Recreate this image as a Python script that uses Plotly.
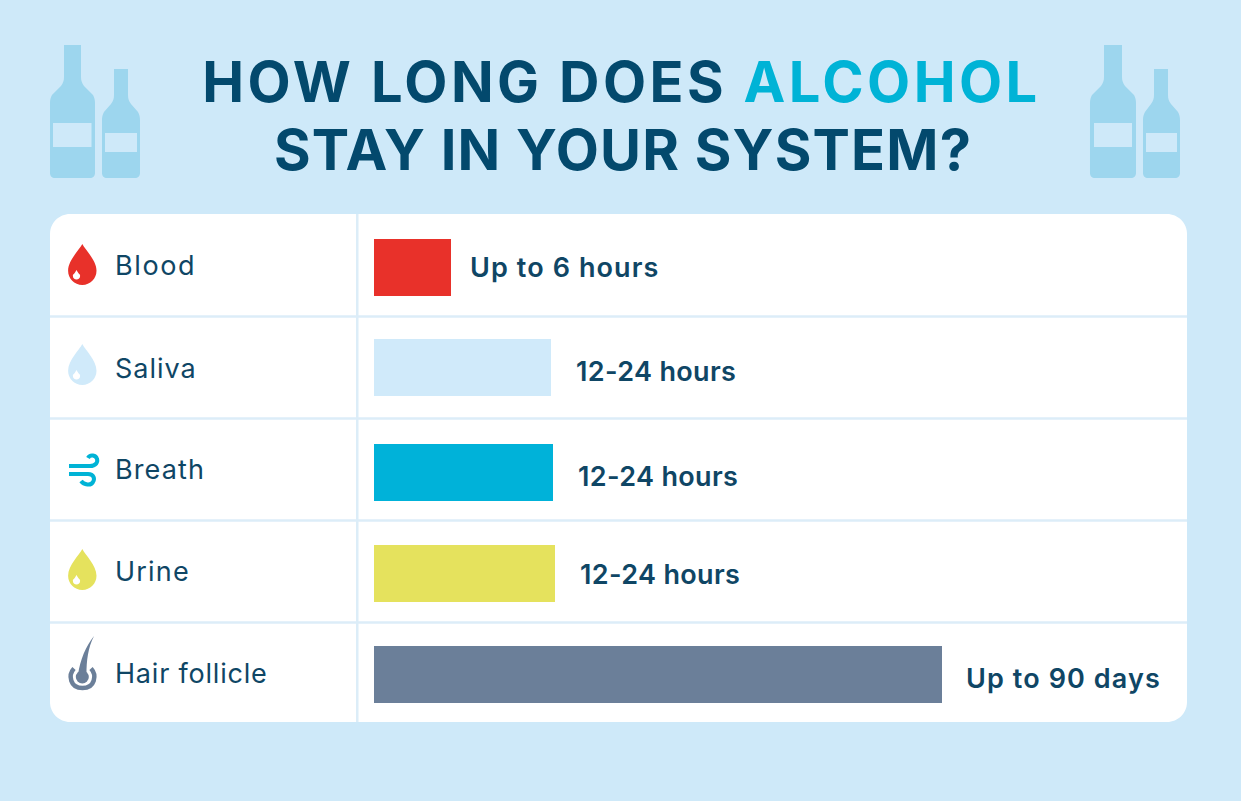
import json
import plotly.graph_objects as go

W, H = 1241, 801
categories = ["Blood", "Saliva", "Breath", "Urine", "Hair follicle"]
bar_lengths = [77, 177, 179, 181, 568]
value_labels = ["Up to 6 hours", "12-24 hours", "12-24 hours", "12-24 hours", "Up to 90 days"]
bar_colors = ["#E8312A", "#D0EAFA", "#00B2D9", "#E5E25D", "#6B7F99"]

BG = "#CEE9F9"
GRID = "#DCEDF8"
BOTTLE = "#9DD6EE"
NAVY = "#03496D"
TEXT = "#0F4665"
CYAN = "#00B3D6"

CARD_L, CARD_R, CARD_T, CARD_B = 50, 1187, 214, 722
BAR_X0 = 374
ROW = (CARD_B - CARD_T) / 5
BAR_H = 57


def px(x):
    return x / W


def py(y):
    return 1 - y / H


def path(*items):
    """Build an SVG path in paper coordinates from pixel tuples."""
    out = []
    for it in items:
        cmd, nums = it[0], it[1:]
        pts = []
        for i in range(0, len(nums), 2):
            pts.append(f"{px(nums[i]):.5f},{py(nums[i + 1]):.5f}")
        out.append(cmd + " ".join(pts))
    return " ".join(out)


def fill_shape(d, color, layer="below"):
    return dict(type="path", xref="paper", yref="paper", path=d,
                fillcolor=color, line=dict(width=0), layer=layer)


def stroke_shape(d, color, width):
    return dict(type="path", xref="paper", yref="paper", path=d,
                line=dict(color=color, width=width), layer="below")


def rect(x0, y0, x1, y1, color):
    return dict(type="rect", xref="paper", yref="paper", x0=px(x0), x1=px(x1),
                y0=py(y1), y1=py(y0), fillcolor=color, line=dict(width=0), layer="below")


def rounded(x0, y0, x1, y1, r):
    k = r * 0.45
    return path(("M", x0 + r, y0), ("L", x1 - r, y0),
                ("C", x1 - k, y0, x1, y0 + k, x1, y0 + r),
                ("L", x1, y1 - r),
                ("C", x1, y1 - k, x1 - k, y1, x1 - r, y1),
                ("L", x0 + r, y1),
                ("C", x0 + k, y1, x0, y1 - k, x0, y1 - r),
                ("L", x0, y0 + r),
                ("C", x0, y0 + k, x0 + k, y0, x0 + r, y0)) + " Z"


def bottle(x0, x1, n0, n1, top, neck, sh, bottom, color):
    r = 5
    return fill_shape(path(("M", n0, top), ("L", n1, top), ("L", n1, neck),
                           ("C", n1, neck + 4, n1 + 1, neck + 6, n1 + 3, neck + 9),
                           ("L", x1 - 2, sh - 8),
                           ("C", x1 - 0.5, sh - 5, x1, sh - 3, x1, sh),
                           ("L", x1, bottom - r),
                           ("C", x1, bottom - 2, x1 - 2, bottom, x1 - r, bottom),
                           ("L", x0 + r, bottom),
                           ("C", x0 + 2, bottom, x0, bottom - 2, x0, bottom - r),
                           ("L", x0, sh),
                           ("C", x0, sh - 3, x0 + 0.5, sh - 5, x0 + 2, sh - 8),
                           ("L", n0 - 3, neck + 9),
                           ("C", n0 - 1, neck + 6, n0, neck + 4, n0, neck)) + " Z", color)


def drop(cx, top, bottom, hw, color):
    cy = bottom - hw
    k = hw * 0.56
    d = path(("M", cx, top),
             ("C", cx + 3, top + 6, cx + hw, cy - hw * 0.75, cx + hw, cy),
             ("C", cx + hw, cy + k, cx + k, bottom, cx, bottom),
             ("C", cx - k, bottom, cx - hw, cy + k, cx - hw, cy),
             ("C", cx - hw, cy - hw * 0.75, cx - 3, top + 6, cx, top)) + " Z"
    return fill_shape(d, color)


def circle(cx, cy, r, color):
    return dict(type="circle", xref="paper", yref="paper", x0=px(cx - r), x1=px(cx + r),
                y0=py(cy + r), y1=py(cy - r), fillcolor=color, line=dict(width=0), layer="below")


shapes = [
    fill_shape(rounded(CARD_L, CARD_T, CARD_R, CARD_B, 20), "#FFFFFF"),
    rect(356, CARD_T, 358.5, CARD_B, GRID),
]
for y in [316.5, 418.5, 520.5, 622.5]:
    shapes.append(rect(CARD_L, y - 1.2, CARD_R, y + 1.2, GRID))

# bottles
shapes += [
    bottle(50, 95, 64, 81, 45, 77, 103, 178, BOTTLE),
    rect(53, 123, 91.5, 147, BG),
    bottle(102, 140, 114, 128, 69, 95, 120, 178, BOTTLE),
    rect(105, 133, 137, 152, BG),
    bottle(1090, 1136, 1104, 1122, 45, 77, 103, 178, BOTTLE),
    rect(1094, 123, 1132, 147, BG),
    bottle(1143, 1180, 1154, 1168, 69, 95, 120, 178, BOTTLE),
    rect(1146, 133, 1177, 152, BG),
]

# drops
for top, col in [(244, bar_colors[0]), (344, bar_colors[1]), (549, bar_colors[3])]:
    shapes.append(drop(82.3, top, top + 41, 14.2, col))
    shapes.append(drop(76.5, top + 26, top + 35.5, 3.6, "#FFFFFF"))

# breath icon
shapes += [
    stroke_shape(path(("M", 69, 466), ("L", 90, 466),
                      ("C", 96, 466, 98, 462, 97, 459),
                      ("C", 96, 455, 90, 454, 88, 458)), CYAN, 4),
    stroke_shape(path(("M", 69, 474), ("L", 88, 474),
                      ("C", 94, 474, 95, 479, 93, 482),
                      ("C", 91, 486, 84, 485, 81, 481)), CYAN, 4),
]

# hair icon
shapes += [
    stroke_shape(path(("M", 74, 668.5),
                      ("C", 68, 675, 70, 688, 82.5, 688),
                      ("C", 95, 688, 97, 675, 91, 668.5)), bar_colors[4], 4.5),
    circle(82.3, 677, 6.5, bar_colors[4]),
    fill_shape(path(("M", 94, 636), ("C", 88, 648, 86.5, 660, 86.5, 675),
                    ("L", 78, 675), ("C", 80, 660, 86, 646, 94, 636)) + " Z", bar_colors[4]),
]


def note(text, x, y, size, color=TEXT, weight=400, anchor="left", family="Inter"):
    return dict(text=text, xref="paper", yref="paper", x=px(x), y=py(y), xanchor=anchor,
                align=anchor, yanchor="middle", showarrow=False,
                font=dict(family=family, size=size, color=color, weight=weight))


annotations = [
    note(f'HOW LONG DOES <span style="color:{CYAN}">ALCOHOL</span>', 621, 82, 56, NAVY, 700, "center"),
    note("STAY IN YOUR SYSTEM?", 622.5, 150, 56, NAVY, 700, "center"),
]
spacing = [3.4, 1.2]
label_y = [266, 368, 469, 571, 673]
value_y = [268, 371, 476, 574, 678]
gaps = [17, 23, 23, 23, 22]
label_spacing = [1.6, 1.0, 1.1, 1.2, 0.8]
value_spacing = [1.1, 0.35, 0.35, 0.35, 1.1]
for name, y, s in zip(categories, label_y, label_spacing):
    annotations.append(note(name, 113, y, 27, TEXT, 400))
    spacing.append(s)
for txt, y, n, g, s in zip(value_labels, value_y, bar_lengths, gaps, value_spacing):
    annotations.append(note(txt, BAR_X0 + n + g, y, 27, TEXT, 600))
    spacing.append(s)

# per-row vertical placement of the bars, in row units
centers = [267.5, 367.5, 472.5, 573.5, 674.5]
offsets = []
for i, c in enumerate(centers):
    base = CARD_T + ROW * (i + 0.5)
    offsets.append((c - base - BAR_H / 2) / ROW)

fig = go.Figure(go.Bar(
    y=categories, x=bar_lengths, orientation="h",
    marker=dict(color=bar_colors, line=dict(width=0)),
    width=BAR_H / ROW, offset=offsets, hoverinfo="skip",
))
fig.update_layout(
    width=W, height=H, margin=dict(l=0, r=0, t=0, b=0),
    paper_bgcolor=BG, plot_bgcolor="rgba(0,0,0,0)", showlegend=False,
    shapes=shapes, annotations=annotations,
    xaxis=dict(domain=[px(BAR_X0), px(CARD_R)], range=[0, CARD_R - BAR_X0],
               visible=False, fixedrange=True),
    yaxis=dict(domain=[py(CARD_B), py(CARD_T)], type="category",
               categoryorder="array", categoryarray=categories,
               range=[4.5, -0.5], visible=False, fixedrange=True),
)
post = (
    "document.body.style.margin='0';document.body.style.background='%s';"
    "document.documentElement.style.overflow='hidden';"
    "var sp=%s;document.querySelectorAll('.annotation-text').forEach(function(t,i){"
    "t.style.letterSpacing=sp[i]+'px';});" % (BG, json.dumps(spacing))
)
fig.write_html("out.html", config=dict(displayModeBar=False), post_script=post)
